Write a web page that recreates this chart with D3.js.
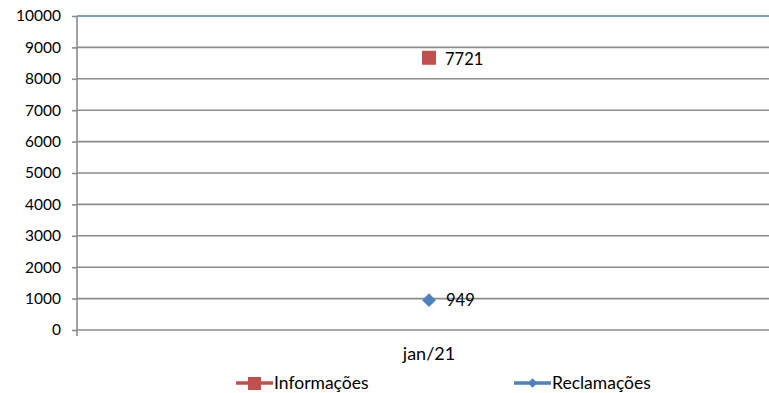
<!DOCTYPE html>
<html><head><meta charset="utf-8">
<script src="https://cdn.jsdelivr.net/npm/d3@7"></script>
<style>body{margin:0;background:#fff}svg{display:block}text{font-family:Lato,"Open Sans",sans-serif;fill:#000}</style>
</head><body><svg id="c" width="769" height="393"></svg>
<script>
const categories = ["jan/21"];
const seriesNames = ["Reclamações", "Informações"];
const reclamacoes = [949];
const informacoes = [7721];
const yTicks = [0,1000,2000,3000,4000,5000,6000,7000,8000,9000,10000];
const colors = {"Informações":"#C0504D","Reclamações":"#4F81BD"};

const svg = d3.select("#c");
const x = d3.scaleBand().domain(categories).range([77, 781]);
const y = d3.scaleLinear().domain([0, 10000]).range([330, 16]);

// gridlines
svg.append("g").selectAll("line").data(yTicks).join("line")
  .attr("x1", 77).attr("x2", 769)
  .attr("y1", d => y(d)).attr("y2", d => y(d))
  .attr("stroke", d => d === 10000 ? "#4F81BD" : "#8c8c8c")
  .attr("stroke-width", 1.6);

// y axis
const ya = svg.append("g").attr("transform", "translate(77,0)")
  .call(d3.axisLeft(y).tickValues(yTicks).tickSize(5).tickPadding(11).tickFormat(d3.format("d")));
ya.select(".domain").attr("stroke", "#8c8c8c").attr("stroke-width", 1.6).attr("d", "M0,16V336");
ya.selectAll(".tick line").attr("stroke", "#8c8c8c").attr("stroke-width", 1.6);
ya.selectAll("text").style("font-size", "15.5px").style("font-family", "Lato,'Open Sans',sans-serif").attr("fill", "#000");

// x axis
const xa = svg.append("g").attr("transform", "translate(0,330)")
  .call(d3.axisBottom(x).tickSize(0).tickPadding(17));
xa.select(".domain").remove();
xa.selectAll("text").style("font-size", "18px").style("font-family", "Lato,'Open Sans',sans-serif").attr("fill", "#000");

// stacked values
const stackRec = reclamacoes.slice();
const stackInf = informacoes.map((v, i) => v + reclamacoes[i]);
const cx = d => x(d) + x.bandwidth() / 2;

// Reclamações diamonds
svg.append("g").selectAll("path").data(categories).join("path")
  .attr("d", d3.symbol().type(d3.symbolDiamond2).size(120))
  .attr("transform", (d, i) => `translate(${cx(d)},${y(stackRec[i])})`)
  .attr("fill", colors["Reclamações"]);
svg.append("g").selectAll("text").data(categories).join("text")
  .attr("x", d => cx(d) + 17).attr("y", (d, i) => y(stackRec[i]) + 6)
  .style("font-size", "16.5px").text((d, i) => reclamacoes[i]);

// Informações squares
svg.append("g").selectAll("rect").data(categories).join("rect")
  .attr("x", d => cx(d) - 7).attr("y", (d, i) => y(stackInf[i]) - 7)
  .attr("width", 14).attr("height", 14)
  .attr("fill", colors["Informações"]);
svg.append("g").selectAll("text").data(categories).join("text")
  .attr("x", d => cx(d) + 16).attr("y", (d, i) => y(stackInf[i]) + 7)
  .style("font-size", "16.5px").text((d, i) => informacoes[i]);

// legend
const legend = [{name:"Informações", x:236, sym:"square"},{name:"Reclamações", x:514, sym:"diamond"}];
const lg = svg.append("g");
legend.forEach(l => {
  const g = lg.append("g").attr("transform", `translate(${l.x},383)`);
  g.append("line").attr("x1", 0).attr("x2", 37).attr("stroke", colors[l.name]).attr("stroke-width", 3.5);
  if (l.sym === "square") g.append("rect").attr("x", 12).attr("y", -6).attr("width", 13).attr("height", 13).attr("fill", colors[l.name]);
  else g.append("path").attr("d", d3.symbol().type(d3.symbolDiamond2).size(60)).attr("transform", "translate(18.5,0)").attr("fill", colors[l.name]);
  g.append("text").attr("x", 38).attr("y", 6).style("font-size", "17.5px").text(l.name);
});
</script></body></html>
